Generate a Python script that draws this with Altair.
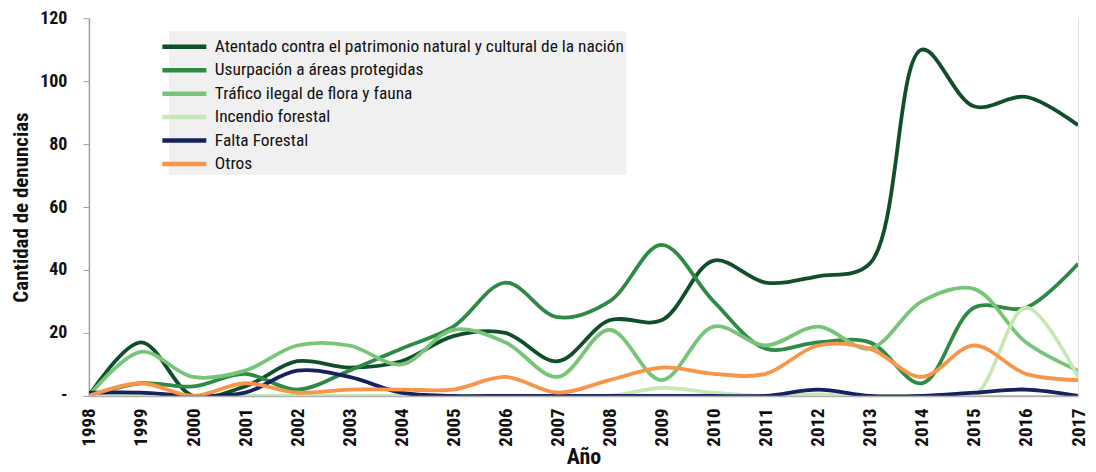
import altair as alt
import pandas as pd

years = list(range(1998, 2018))
series_names = [
    "Atentado contra el patrimonio natural y cultural de la nación",
    "Usurpación a áreas protegidas",
    "Tráfico ilegal de flora y fauna",
    "Incendio forestal",
    "Falta Forestal",
    "Otros",
]
atentado = [0, 17, 0, 3, 11, 9, 11, 19, 20, 11, 24, 24, 43, 36, 38, 42, 110, 92, 95, 86]
usurpacion = [0, 4, 3, 7, 2, 8, 15, 22, 36, 25, 30, 48, 30, 15, 17, 17, 4, 28, 28, 42]
trafico = [0, 14, 6, 8, 16, 16, 10, 21, 17, 6, 21, 5, 22, 16, 22, 15, 30, 34, 17, 8]
incendio = [0, 0, 0, 0, 0, 0, 0, 0, 0, 0, 0, 2.5, 1, 0, 0.5, 0, 0, 0, 28, 6]
falta = [1, 1, 0, 1, 8, 6, 1, 0, 0, 0, 0, 0, 0, 0, 2, 0, 0, 1, 2, 0]
otros = [0, 4, 0, 4, 1, 2, 2, 2, 6, 1, 5, 9, 7, 7, 16, 15, 6, 16, 7, 5]
colors = ["#0f4f2a", "#2f8a45", "#78c57a", "#c5e8b5", "#15225f", "#f7954a"]

all_series = [atentado, usurpacion, trafico, incendio, falta, otros]
rows = []
for name, vals in zip(series_names, all_series):
    for y, v in zip(years, vals):
        rows.append({"year": y, "value": v, "serie": name})
df = pd.DataFrame(rows)

FONT = "Roboto Condensed, Liberation Sans Narrow, DejaVu Sans Condensed, sans-serif"

chart = alt.Chart(df).mark_line(
    interpolate="catmull-rom", strokeWidth=3.8, clip=True
).encode(
    x=alt.X(
        "year:Q",
        scale=alt.Scale(domain=[1998, 2017], nice=False, zero=False),
        axis=alt.Axis(
            values=years, format="d", labelAngle=-90, grid=False, ticks=False,
            domainColor="#b0b0b0", domainWidth=2,
            labelFont=FONT, labelFontSize=19, labelFontWeight="bold",
            labelColor="#111111", labelPadding=12,
            title="Año", titleFont=FONT, titleFontSize=22, titleFontWeight="bold",
            titleColor="#111111", titlePadding=0,
        ),
    ),
    y=alt.Y(
        "value:Q",
        scale=alt.Scale(domain=[0, 120], nice=False),
        axis=alt.Axis(
            values=[0, 20, 40, 60, 80, 100, 120],
            labelExpr="datum.value == 0 ? '-' : datum.label",
            grid=True, gridColor="#ffffff", gridWidth=2,
            domainColor="#a0a0a0", domainWidth=1.5, tickColor="#a0a0a0", tickSize=6,
            labelFont=FONT, labelFontSize=18, labelFontWeight="bold",
            labelColor="#111111", labelPadding=16,
            title="Cantidad de denuncias", titleFont=FONT, titleFontSize=21,
            titleFontWeight="bold", titleColor="#111111", titlePadding=8,
        ),
    ),
    color=alt.Color(
        "serie:N",
        scale=alt.Scale(domain=series_names, range=colors),
        sort=series_names,
        legend=alt.Legend(
            orient="none", legendX=80, legendY=13, title=None,
            fillColor="#f0f0f0", padding=2,
            symbolType="M-2,0H2", symbolSize=484, symbolStrokeWidth=4.5,
            labelFont=FONT, labelFontSize=17.4, labelColor="#111111",
            rowPadding=0.5, labelLimit=700, labelOffset=17,
        ),
    ),
    order=alt.Order("year:Q"),
).properties(
    width=990, height=378,
    padding={"left": 2, "top": 1, "right": 0, "bottom": 0},
).configure_view(
    fill="#f0f0f0", stroke=None,
).configure(
    background="#ffffff",
)

chart.save("out.html", embed_options={"renderer": "svg", "actions": False})
